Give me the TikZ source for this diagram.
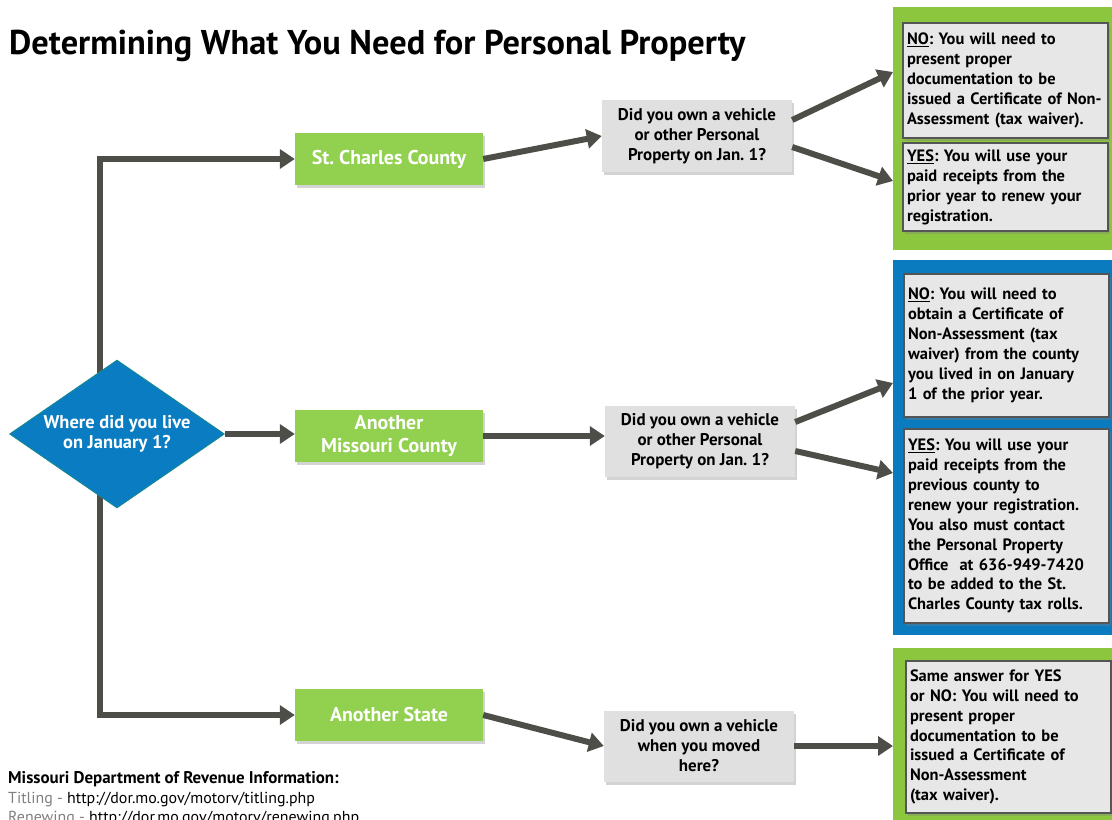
\documentclass[tikz,border=0pt]{standalone}
\usepackage{fontspec}
\setmainfont{PT Sans}
\usetikzlibrary{shapes.geometric,arrows.meta,shadows,backgrounds}
\frenchspacing

\definecolor{countygreen}{HTML}{92D050}
\definecolor{panelgreen}{HTML}{8CC63F}
\definecolor{panelblue}{HTML}{0B7BC0}
\definecolor{diablue}{HTML}{0A7DC2}
\definecolor{diaedge}{HTML}{16898C}
\definecolor{flowgrey}{HTML}{4E4E49}
\definecolor{askgrey}{HTML}{E0E0E0}
\definecolor{ansgrey}{HTML}{E7E7E7}
\definecolor{edgegrey}{HTML}{555555}
\definecolor{footgrey}{HTML}{808080}

\begin{document}
\begin{tikzpicture}[x=1bp,y=-1bp,
  flow/.style={line width=6bp, draw=flowgrey, -{Triangle[length=15bp,width=19bp]}},
  shade/.style={drop shadow={opacity=.35, shadow xshift=2bp, shadow yshift=-3bp}},
  county/.style={shade, fill=countygreen, text=white, font=\bfseries\fontsize{20}{24}\selectfont,
    minimum width=188bp, minimum height=52bp, inner sep=2bp, align=center},
  ask/.style={shade, fill=askgrey, font=\bfseries\fontsize{17}{20}\selectfont,
    minimum width=190bp, minimum height=71bp, inner sep=2bp, align=center},
  panel/.style={anchor=north west, minimum width=219bp, inner sep=0pt, outer sep=0pt},
  answer/.style={shade, anchor=north west, fill=ansgrey, draw=edgegrey, line width=2bp,
    font=\bfseries\fontsize{16.5}{20}\selectfont, text width=197bp, inner xsep=4bp, align=left}
]
\useasboundingbox (0,0) rectangle (1112,820);

% title
\node[anchor=base west, inner sep=0pt, font=\bfseries\fontsize{34.5}{40}\selectfont] (title) at (9,55)
  {Determining What You Need for Personal Property};

% answer panels
\node[panel, fill=panelgreen, minimum height=243bp] (stcpanel) at (893,7) {};
\node[panel, fill=panelblue, minimum height=375bp] (mopanel) at (893,260) {};
\node[panel, fill=panelgreen, minimum height=172bp] (statepanel) at (893,648) {};

\node[answer, minimum height=115bp] (stcno) at (902,22)
  {\underline{NO}: You will need to\\present proper\\documentation to be\\issued a Certificate of Non-\\Assessment (tax waiver).};
\node[answer, minimum height=88bp] (stcyes) at (902,142)
  {\underline{YES}: You will use your\\paid receipts from the\\prior year to renew your\\registration.};
\node[answer, minimum height=143bp] (mono) at (903,273)
  {\underline{NO}: You will need to\\obtain a Certificate of\\Non-Assessment (tax\\waiver) from the county\\you lived in on January\\1 of the prior year.};
\node[answer, minimum height=194bp] (moyes) at (903,428)
  {\underline{YES}: You will use your\\paid receipts from the\\previous county to\\renew your registration.\\You also must contact\\the Personal Property\\Office\ \ at 636-949-7420\\to be added to the St.\\Charles County tax rolls.};
\node[answer, minimum height=152bp] (stateans) at (905,660)
  {Same answer for YES\\or NO: You will need to\\present proper\\documentation to be\\issued a Certificate of\\Non-Assessment\\(tax waiver).};

% start
\node[diamond, aspect=1.45, fill=diablue, draw=diaedge, line width=.8bp, text=white,
  font=\bfseries\fontsize{18.5}{20}\selectfont, align=center, inner sep=0pt,
  minimum width=215bp, minimum height=148bp] (live) at (117,434)
  {Where did you live\\on January 1?};

% counties
\node[county] (stc) at (389,159) {St. Charles County};
\node[county] (amc) at (389,436) {Another\\Missouri County};
\node[county] (state) at (389,715) {Another State};

% questions
\node[ask] (q1) at (697,136) {Did you own a vehicle\\or other Personal\\Property on Jan. 1?};
\node[ask] (q2) at (700,441) {Did you own a vehicle\\or other Personal\\Property on Jan. 1?};
\node[ask] (q3) at (699,746) {Did you own a vehicle\\when you moved\\here?};

% connectors
\begin{scope}[on background layer]
\draw[flow] ([xshift=-17bp]live.center) |- (stc);
\draw[flow] ([xshift=-17bp]live.center) |- (state);
\end{scope}
\draw[flow] (live.east) -- (live.east -| amc.west);
\draw[flow] (stc.east) -- (q1.west);
\draw[flow] (amc.east) -- (amc.east -| q2.west);
\draw[flow] (state.east) -- (q3.west);
\draw[flow] ([yshift=16bp]q1.east) -- ([yshift=-65bp]stcpanel.north west);
\draw[flow] ([yshift=-11bp]q1.east) -- ([yshift=-174bp]stcpanel.north west);
\draw[flow] ([yshift=19bp]q2.east) -- ([yshift=-123bp]mopanel.north west);
\draw[flow] ([yshift=-10bp]q2.east) -- ([yshift=-213bp]mopanel.north west);
\draw[flow] (q3.east) -- (q3.east -| statepanel.west);

% footer
\node[anchor=base west, inner sep=0pt, font=\bfseries\fontsize{17}{20}\selectfont] (dor) at (8,783)
  {Missouri Department of Revenue Information:};
\node[anchor=base west, inner sep=0pt, font=\fontsize{16}{20}\selectfont] (titling) at (8,803)
  {\textcolor{footgrey}{Titling -} http://dor.mo.gov/motorv/titling.php};
\node[anchor=base west, inner sep=0pt, font=\fontsize{16}{20}\selectfont] (renewing) at (8,822)
  {\textcolor{footgrey}{Renewing -} http://dor.mo.gov/motorv/renewing.php};
\end{tikzpicture}
\end{document}
